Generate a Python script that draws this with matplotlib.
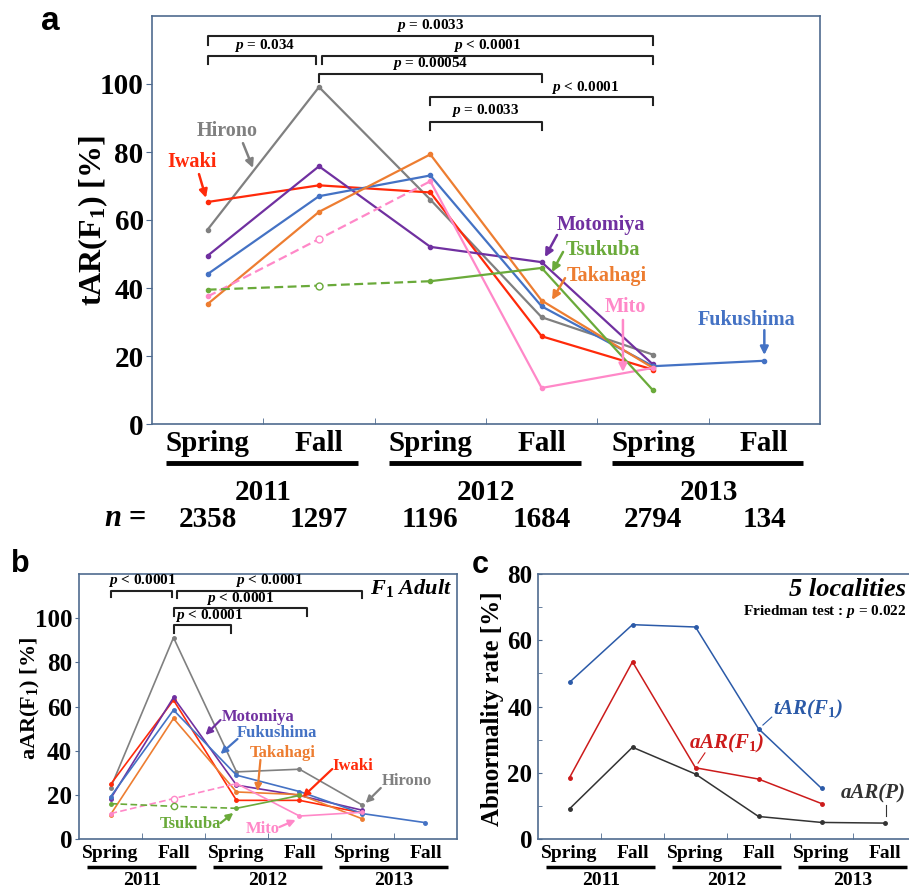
import numpy as np
import matplotlib.pyplot as plt

plt.rcParams['font.family'] = 'Liberation Serif'
plt.rcParams['font.weight'] = 'bold'
plt.rcParams['mathtext.fontset'] = 'custom'
plt.rcParams['mathtext.rm'] = 'Liberation Serif:bold'
plt.rcParams['mathtext.it'] = 'Liberation Serif:italic:bold'
plt.rcParams['mathtext.bf'] = 'Liberation Serif:bold'

nan = np.nan
seasons = ['Spring', 'Fall', 'Spring', 'Fall', 'Spring', 'Fall']
years = ['2011', '2012', '2013']
n_counts = ['2358', '1297', '1196', '1684', '2794', '134']
x = np.arange(6)

localities = ['Hirono', 'Iwaki', 'Motomiya', 'Fukushima', 'Takahagi', 'Mito', 'Tsukuba']
colors = ['#808080', '#ff2a0a', '#7030a0', '#4472c4', '#ed7d31', '#ff88c8', '#6aaa3a']
dashed_start = [False, False, False, False, False, True, True]

# tAR(F1) per locality  (panel a)
tar_hirono = [57.2, 99.1, 66.0, 31.4, 20.4, nan]
tar_iwaki = [65.3, 70.2, 68.1, 25.8, 16.0, nan]
tar_motomiya = [49.5, 75.8, 52.1, 47.6, 17.5, nan]
tar_fukushima = [44.1, 67.0, 73.1, 34.6, 17.0, 18.6]
tar_takahagi = [35.3, 62.4, 79.3, 36.3, 16.5, nan]
tar_mito = [37.5, 54.4, 71.4, 10.6, 16.5, nan]
tar_tsukuba = [39.5, 40.7, 42.0, 45.9, 9.9, nan]

# aAR(F1) per locality  (panel b)
aar_hirono = [23.1, 91.2, 30.4, 31.6, 15.3, nan]
aar_iwaki = [24.7, 62.9, 17.5, 17.5, 11.8, nan]
aar_motomiya = [18.2, 64.1, 24.4, 19.7, 13.0, nan]
aar_fukushima = [19.1, 58.4, 28.9, 21.5, 11.5, 7.4]
aar_takahagi = [11.0, 54.6, 21.3, 20.1, 9.1, nan]
aar_mito = [11.5, 18.3, 25.1, 10.4, 12.1, nan]
aar_tsukuba = [16.0, 14.8, 13.9, 19.7, nan, nan]

# 5 localities (panel c)
c_tar = [47.3, 64.7, 64.0, 33.3, 15.3, nan]
c_aar_f1 = [18.5, 53.5, 21.5, 18.1, 10.7, nan]
c_aar_p = [9.1, 27.7, 19.6, 6.8, 5.0, 4.8]

tar_all = [tar_hirono, tar_iwaki, tar_motomiya, tar_fukushima, tar_takahagi, tar_mito, tar_tsukuba]
aar_all = [aar_hirono, aar_iwaki, aar_motomiya, aar_fukushima, aar_takahagi, aar_mito, aar_tsukuba]

W, H = 909, 888
fig = plt.figure(figsize=(W / 100, H / 100), dpi=100)


def px(xp, yp):
    return xp / W, 1 - yp / H


def make_ax(l, t, r, b):
    ax = fig.add_axes([l / W, 1 - b / H, (r - l) / W, (b - t) / H])
    for s in ax.spines.values():
        s.set_color('#4f6b8f')
        s.set_linewidth(1.2)
    ax.set_xlim(-0.5, 5.5)
    ax.set_xticks([])
    ax.set_xticks(np.arange(0.5, 5.5, 1), minor=True)
    ax.tick_params(axis='x', which='minor', direction='in', length=4, color='#4f6b8f')
    return ax


def draw_series(ax, vals, color, dashed, lw, ms):
    v = np.array(vals, float)
    if dashed:
        ax.plot(x[:3], v[:3], '--', color=color, lw=lw, dashes=(4, 2))
        ax.plot(x[2:], v[2:], '-', color=color, lw=lw)
        ax.plot(x[[0, 2, 3, 4, 5]], v[[0, 2, 3, 4, 5]], 'o', color=color, ms=ms)
        ax.plot(x[1], v[1], 'o', mfc='white', mec=color, ms=ms + 2, mew=1)
    else:
        ax.plot(x, v, '-o', color=color, lw=lw, ms=ms)


def bracket(ax, x0, x1, y, leg, label, tx, ty, fs):
    ax.plot([x0, x0, x1, x1], [leg, y, y, leg], color='#222222', lw=1.5, clip_on=False)
    ax.text(tx, ty, label, ha='center', va='center', fontsize=fs)


def season_axis(ax, fs, y_season, y_line, y_year, lw):
    tr = ax.get_xaxis_transform()
    for i, s in enumerate(seasons):
        ax.text(x[i], y_season, s, transform=tr, ha='center', va='center', fontsize=fs)
    for k, yr in enumerate(years):
        ax.plot([2 * k - 0.37, 2 * k + 1.35], [y_line, y_line], transform=tr, color='black',
                lw=lw, clip_on=False, solid_capstyle='butt')
        ax.text(2 * k + 0.5, y_year, yr, transform=tr, ha='center', va='center', fontsize=fs)


def arrow(ax, tail, tip, color, lw=1.8, ms=12):
    ax.annotate('', xy=tip, xytext=tail,
                arrowprops=dict(arrowstyle='-|>', color=color, lw=lw, mutation_scale=ms,
                                shrinkA=0, shrinkB=0))


# ---------------- panel a ----------------
ax = make_ax(152, 16, 820, 424)
ax.set_ylim(0, 120)
ax.set_yticks(np.arange(0, 101, 20))
ax.tick_params(axis='y', which='major', direction='out', length=4, color='#4f6b8f',
               labelsize=21, pad=2)
for vals, col, d in zip(tar_all, colors, dashed_start):
    draw_series(ax, vals, col, d, 1.6, 3)

bracket(ax, 0, 4, 114.1, 111.5, '$p$ = 0.0033', 2.0, 117.1, 11)
bracket(ax, 0, 0.97, 108.2, 105.9, '$p$ = 0.034', 0.51, 111.2, 11)
bracket(ax, 1.03, 4, 108.2, 105.9, '$p$ < 0.0001', 2.51, 111.2, 11)
bracket(ax, 1, 3, 102.9, 100.6, '$p$ = 0.00054', 2.0, 105.9, 11)
bracket(ax, 2, 4, 96.2, 93.8, '$p$ < 0.0001', 3.39, 99.1, 11)
bracket(ax, 2, 3, 88.8, 86.5, '$p$ = 0.0033', 2.49, 92.1, 11)

a_labels = [('Hirono', (0.175, 86.2), (0.317, 82.6), (0.407, 75.3)),
            ('Iwaki', (-0.137, 77.1), (-0.078, 73.5), (-0.015, 66.5)),
            ('Motomiya', (3.534, 58.5), (3.138, 55.6), (3.03, 49.1)),
            ('Fukushima', (4.84, 30.6), (5.0, 27.6), (5.0, 20.3)),
            ('Takahagi', (3.588, 43.5), (3.21, 42.9), (3.093, 36.5)),
            ('Mito', (3.75, 34.4), (3.73, 30.6), (3.73, 15.3)),
            ('Tsukuba', (3.552, 51.2), (3.192, 50.6), (3.093, 44.7))]
for (name, tpos, tail, tip), col in zip(a_labels, colors):
    ax.text(tpos[0], tpos[1], name, color=col, fontsize=14.5, ha='center', va='center')
    arrow(ax, tail, tip, col)

season_axis(ax, 21, -0.049, -0.0956, -0.169, 3.5)
tr = ax.get_xaxis_transform()
for i, n in enumerate(n_counts):
    ax.text(x[i], -0.233, n, transform=tr, ha='center', va='center', fontsize=21)
fig.text(*px(125, 519), '$n$ =', ha='center', va='center', fontsize=22)
fig.text(*px(93, 221), 'tAR(F$_1$) [%]', rotation=90, ha='center', va='center', fontsize=23)
fig.text(*px(50, 22), 'a', family='Liberation Sans', fontsize=24, ha='center', va='center')

# ---------------- panel b ----------------
ax = make_ax(79, 574, 457, 839)
ax.set_ylim(0, 120)
ax.set_yticks(np.arange(0, 101, 20))
ax.tick_params(axis='y', which='major', direction='out', length=3, color='#4f6b8f',
               labelsize=18, pad=2)
for vals, col, d in zip(aar_all, colors, dashed_start):
    draw_series(ax, vals, col, d, 1.2, 2.5)

bracket(ax, 0, 0.97, 112.4, 109.4, '$p$ < 0.0001', 0.5, 116.9, 11)
bracket(ax, 1.05, 4, 112.4, 109.0, '$p$ < 0.0001', 2.52, 116.9, 11)
bracket(ax, 1, 3.12, 104.8, 101.0, '$p$ < 0.0001', 2.06, 108.9, 11)
bracket(ax, 1, 1.92, 96.8, 93.2, '$p$ < 0.0001', 1.56, 101.0, 11)
ax.text(0.987, 0.947, r'F$_{\mathit{1}}$ Adult', transform=ax.transAxes, style='italic',
        ha='right', va='center', fontsize=16)

b_labels = [('Hirono', (4.70, 26.3), (4.29, 23.1), (4.05, 16.3)),
            ('Iwaki', (3.84, 33.1), (3.52, 31.7), (3.05, 19.0)),
            ('Motomiya', (2.35, 55.3), (1.746, 53.9), (1.508, 47.1)),
            ('Fukushima', (2.65, 48.0), (2.016, 45.3), (1.746, 38.5)),
            ('Takahagi', (2.73, 38.9), (2.38, 35.8), (2.333, 21.7)),
            ('Mito', (2.41, 4.5), (2.68, 5.4), (2.94, 8.6)),
            ('Tsukuba', (1.27, 6.8), (1.746, 7.2), (1.95, 11.8))]
for (name, tpos, tail, tip), col in zip(b_labels, colors):
    ax.text(tpos[0], tpos[1], name, color=col, fontsize=12, ha='center', va='center')
    arrow(ax, tail, tip, col, lw=1.6, ms=10)

season_axis(ax, 14, -0.053, -0.106, -0.155, 2.5)
fig.text(*px(30, 698), 'aAR(F$_1$) [%]', rotation=90, ha='center', va='center', fontsize=16)
fig.text(*px(20, 564), 'b', family='Liberation Sans', fontsize=22, ha='center', va='center')

# ---------------- panel c ----------------
ax = make_ax(538, 574, 916, 839)
ax.set_ylim(0, 80)
ax.set_yticks(np.arange(0, 81, 20))
ax.set_yticks(np.arange(10, 80, 20), minor=True)
ax.tick_params(axis='y', which='major', direction='in', length=3, color='#4f6b8f',
               labelsize=18, pad=4)
ax.tick_params(axis='y', which='minor', direction='in', length=3, color='#4f6b8f')
ax.plot(x, c_tar, '-o', color='#2b5aa8', lw=1.1, ms=2.5)
ax.plot(x, c_aar_f1, '-o', color='#cc1b1b', lw=1.1, ms=2.5)
ax.plot(x, c_aar_p, '-o', color='#333333', lw=1.1, ms=2.5)

ax.text(3.23, 39.2, r'tAR(F$_{\mathit{1}}$)', color='#2b5aa8', style='italic', fontsize=15,
        ha='left', va='center')
ax.plot([3.21, 3.07], [36.8, 34.4], color='#2b5aa8', lw=0.8)
ax.text(1.90, 28.7, r'aAR(F$_{\mathit{1}}$)', color='#cc1b1b', style='italic', fontsize=15,
        ha='left', va='center')
ax.plot([2.15, 2.04], [26.0, 22.9], color='#cc1b1b', lw=0.8)
ax.plot([5.02, 5.02], [10.3, 6.9], color='#333333', lw=0.8)

# texts near the right edge: right-aligned just inside the figure
fig.text(*px(906, 793), 'aAR(P)', color='#333333', style='italic', fontsize=15,
         ha='right', va='center')
fig.text(*px(906, 590), '5 localities', style='italic', fontsize=19, ha='right', va='center')
fig.text(*px(906, 612), 'Friedman test : $p$ = 0.022', fontsize=11, ha='right', va='center')

season_axis(ax, 14, -0.053, -0.106, -0.155, 2.5)
fig.text(*px(492, 709), 'Abnormality rate [%]', rotation=90, ha='center', va='center', fontsize=18)
fig.text(*px(480, 565), 'c', family='Liberation Sans', fontsize=22, ha='center', va='center')

fig.savefig('out.png', dpi=100)
